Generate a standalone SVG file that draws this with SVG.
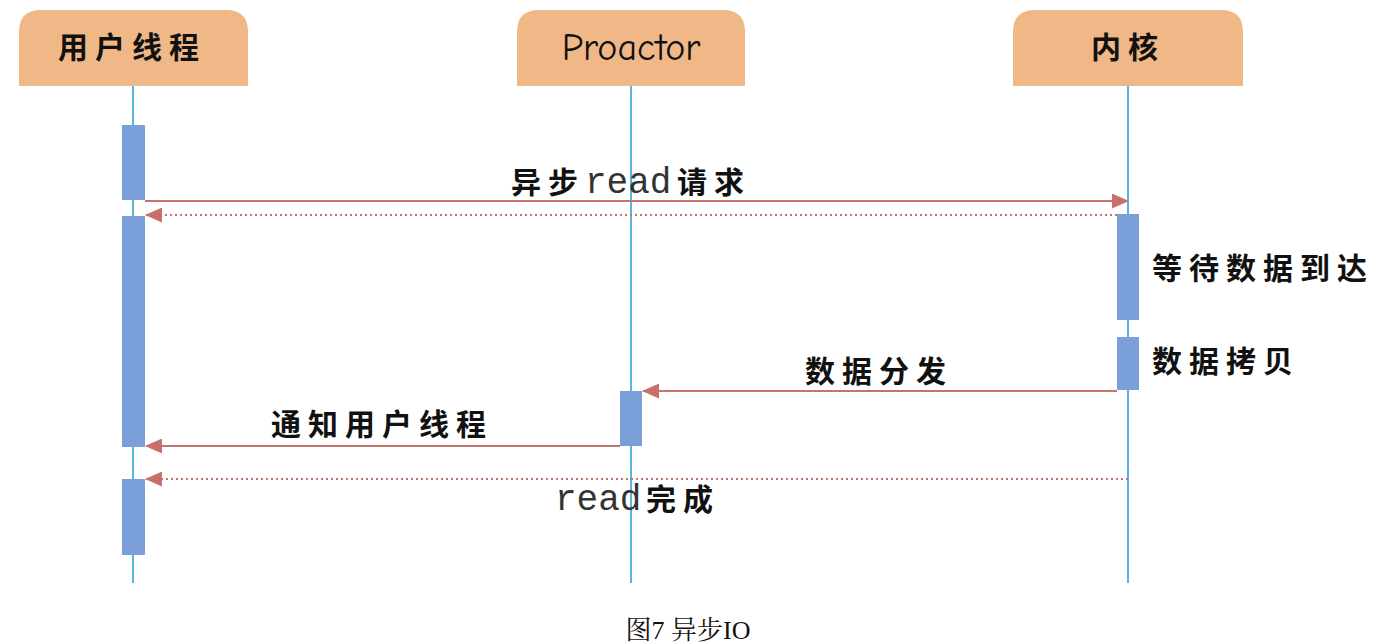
<svg xmlns="http://www.w3.org/2000/svg" width="1388" height="644" viewBox="0 0 1388 644">
<style>
.hdr{fill:#f0b887}
.life{stroke:#5ab4e0;stroke-width:2;fill:none}
.act{fill:#7b9fd9}
.msg{stroke:#c3756b;stroke-width:2;fill:none}
.dot{stroke:#c3756b;stroke-width:2;stroke-dasharray:2,3;fill:none}
.cn{font-family:"Noto Sans CJK SC","Noto Sans",sans-serif;font-weight:bold;font-size:30px;fill:#111;letter-spacing:7px}
.mono{font-family:"Liberation Mono",monospace;font-weight:normal;font-size:36px;fill:#333}
</style>
<defs>
<marker id="ah" markerWidth="17" markerHeight="15" refX="16" refY="7.5" orient="auto" markerUnits="userSpaceOnUse">
<path d="M0,0 L17,7.5 L0,15 Z" fill="#c8716a"/>
</marker>
</defs>
<g id="node-user">
<path class="hdr" d="M19,86 V32 Q19,10 41,10 H226 Q248,10 248,32 V86 Z"/>
<text class="cn" x="58" y="58">用户线程</text>
<line class="life" x1="133" y1="86" x2="133" y2="583"/>
<rect class="act" x="122" y="125" width="23" height="75"/>
<rect class="act" x="122" y="216" width="23" height="231"/>
<rect class="act" x="122" y="479" width="23" height="76"/>
</g>
<g id="node-proactor">
<path class="hdr" d="M517,86 V32 Q517,10 539,10 H723 Q745,10 745,32 V86 Z"/>
<text x="631" y="60" text-anchor="middle" font-family="'Comic Neue','Noto Sans',sans-serif" font-size="38" fill="#111">Proactor</text>
<line class="life" x1="631" y1="86" x2="631" y2="583"/>
<rect class="act" x="620" y="391" width="22" height="55"/>
</g>
<g id="node-kernel">
<path class="hdr" d="M1013,86 V32 Q1013,10 1035,10 H1221 Q1243,10 1243,32 V86 Z"/>
<text class="cn" x="1091" y="58">内核</text>
<line class="life" x1="1128" y1="86" x2="1128" y2="583"/>
<rect class="act" x="1117" y="214" width="22" height="106"/>
<rect class="act" x="1117" y="337" width="22" height="53"/>
<text class="cn" x="1152" y="279">等待数据到达</text>
<text class="cn" x="1152" y="372">数据拷贝</text>
</g>
<g id="connectors">
<line class="msg" x1="145" y1="201" x2="1128" y2="201" marker-end="url(#ah)"/>
<text class="cn" x="511" y="193">异步</text>
<text class="mono" x="585" y="193">read</text>
<text class="cn" x="677" y="193">请求</text>
<line class="dot" x1="1117" y1="215" x2="146" y2="215" marker-end="url(#ah)"/>
<line class="msg" x1="1117" y1="391" x2="643" y2="391" marker-end="url(#ah)"/>
<text class="cn" x="805" y="382">数据分发</text>
<line class="msg" x1="620" y1="446" x2="146" y2="446" marker-end="url(#ah)"/>
<text class="cn" x="271" y="435">通知用户线程</text>
<line class="dot" x1="1128" y1="479" x2="146" y2="479" marker-end="url(#ah)"/>
<text class="mono" x="555" y="510">read</text>
<text class="cn" x="646" y="510">完成</text>
</g>
<text x="688" y="639" text-anchor="middle" font-family="'Liberation Serif','Noto Serif CJK SC','Noto Sans CJK SC',serif" font-size="26" fill="#111">图7 异步IO</text>
</svg>
